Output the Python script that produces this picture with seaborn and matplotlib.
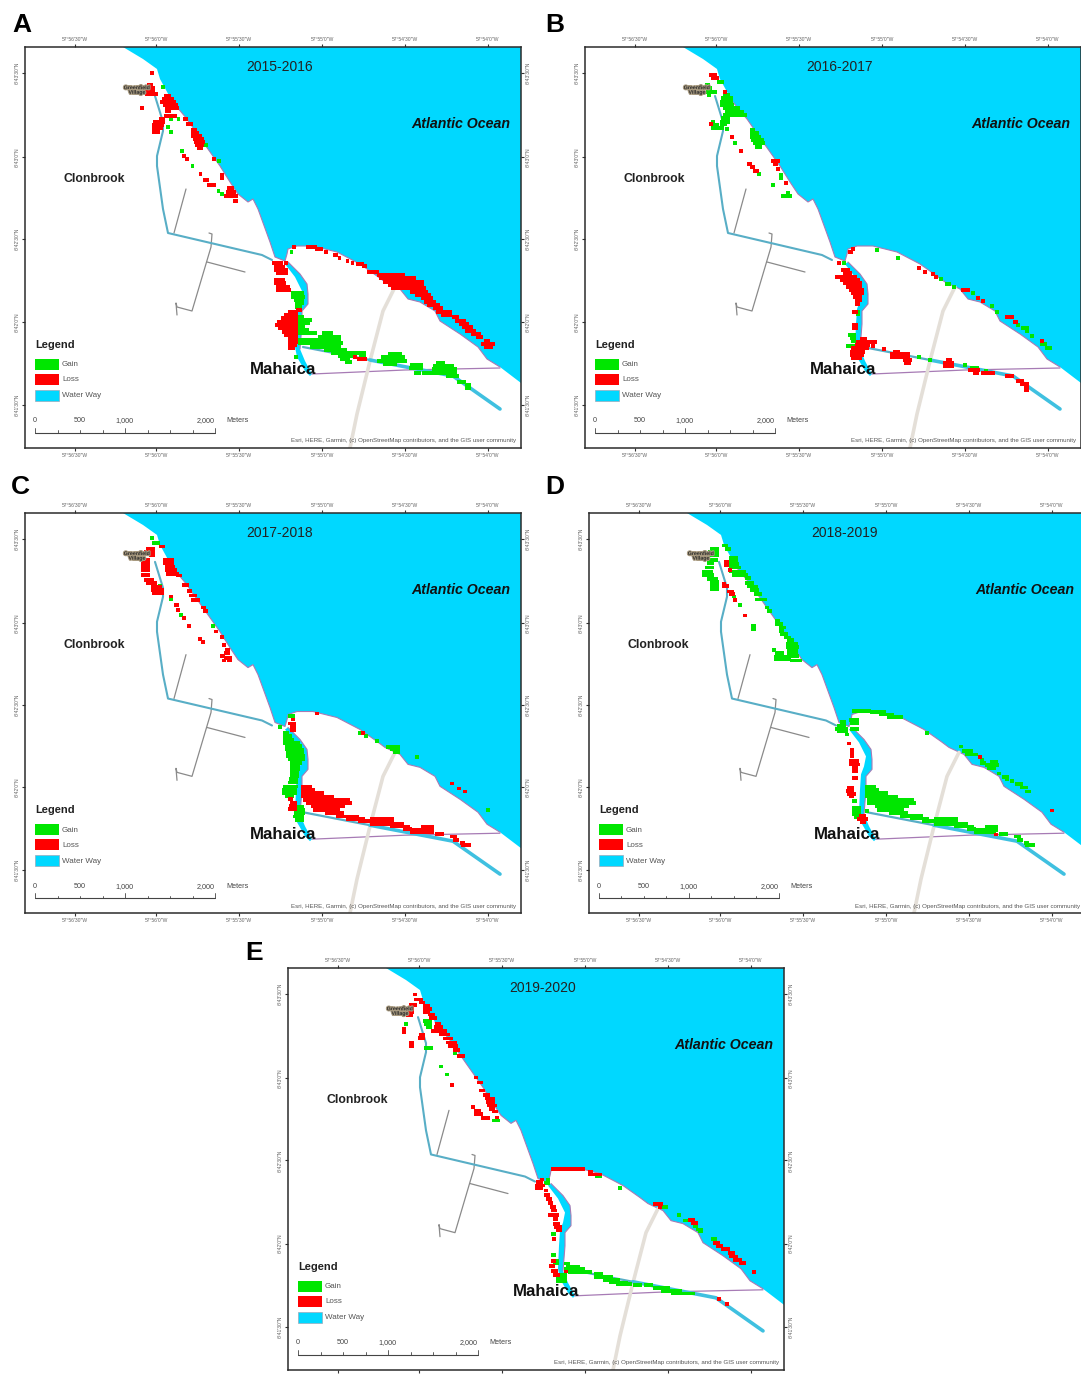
import numpy as np
import pandas as pd
import matplotlib
matplotlib.use("Agg")
import matplotlib.pyplot as plt
import matplotlib.patheffects as pe
from matplotlib.patches import Polygon, Rectangle
import seaborn as sns

sns.set_theme(style="white")
plt.rcParams['font.family'] = ['Liberation Sans', 'DejaVu Sans']

W, H = 1081, 1374
PANEL_LETTERS = ['A', 'B', 'C', 'D', 'E']
YEARS = ['2015-2016', '2016-2017', '2017-2018', '2018-2019', '2019-2020']
LON_LABELS = ['57°56\'30"W', '57°56\'0"W', '57°55\'30"W', '57°55\'0"W', '57°54\'30"W', '57°54\'0"W']
LAT_LABELS = ['6°43\'30"N', '6°43\'0"N', '6°42\'30"N', '6°42\'0"N', '6°41\'30"N']
LON_POS = [50, 131, 214, 297, 380, 463]
LAT_POS = [26, 110, 192, 275, 358]

# Base map, in map units (0-496 east, 0-401 south)
COAST = [(98, 0), (118, 12), (132, 22), (135, 32), (147, 54), (162, 72), (178, 95), (195, 119), (205, 135),
         (213, 147), (223, 155), (228, 152), (233, 162), (245, 195), (250, 210), (260, 214), (262, 207),
         (263, 202), (272, 199), (288, 199), (312, 205), (335, 217), (352, 229), (360, 235), (375, 242),
         (383, 252), (395, 255), (410, 264), (415, 274), (435, 287), (453, 300), (462, 312), (475, 320),
         (496, 336)]
OCEAN_CORNERS = [(496, 0)]
RIVER = [(260, 217), (270, 230), (277, 244), (275, 254), (272, 262), (271, 277), (270, 300), (272, 310),
         (280, 324), (285, 329), (287, 327), (280, 314), (275, 302), (277, 277), (277, 264), (283, 257),
         (283, 247), (282, 237), (275, 227), (263, 215)]
RIVER_BANK = [(263, 215), (275, 227), (282, 237), (283, 247), (283, 257), (277, 264), (277, 277), (275, 302)]
CANAL_EAST = [(278, 300), (345, 313), (428, 329), (475, 362)]
CANAL_NORTH = [(130, 49), (138, 75), (138, 84), (132, 109), (132, 119), (138, 162), (143, 186), (237, 208), (247, 213)]
PURPLE_ROAD = [(287, 327), (380, 323), (475, 321)]
PALE_ROAD = [(370, 240), (358, 264), (345, 314), (332, 367), (325, 401)]
GREY_ROADS = [[(161, 142), (149, 186)],
              [(184, 186), (187, 187), (186, 200), (167, 264), (152, 260), (151, 256), (152, 268)],
              [(182, 215), (220, 225)]]

# Change cells: rows of (first column, last column, row)
GAIN_A_UP = [(473,473,260),(495,495,357),(518,518,356),(488,488,380),(496,496,396),(597,597,436),(635,635,484),
             (527,527,452),(558,558,499),(634,634,572),(643,643,581)]
LOSS_A_UP = [(441,441,220),(432,438,255),(425,445,265),(425,445,275),(425,452,282),(480,490,288),(475,500,297),
             (470,505,306),(478,510,315),(485,515,324),(485,492,333),(480,508,347),(411,411,323),(465,472,358),
             (450,472,367),(445,470,376),(445,468,385),(445,460,396),(535,540,356),(545,555,371),(558,565,390),
             (558,572,399),(560,580,408),(565,585,417),(568,590,426),(572,585,435),(578,583,444),(620,620,476),
             (643,643,525),(643,643,535),(533,533,467),(542,542,476),(581,581,523),(595,600,541),(605,622,555),
             (665,672,565),(662,680,576),(655,685,588),(680,685,603)]
GAIN_A_LOW = [(845,845,67),(850,875,190),(850,880,200),(858,875,210),(862,875,220),(862,870,230),(865,875,260),
              (865,900,270),(862,895,280),(862,880,290),(862,890,300),(862,915,310),(940,960,310),(928,985,320),
              (865,920,330),(925,985,330),(870,990,340),(905,985,350),(945,1000,360),(965,1025,370),(1035,1055,368),
              (985,1020,378),(1045,1055,378),(990,1010,388),(1005,1015,397),(858,858,380),(1130,1160,372),
              (1110,1170,382),(1098,1175,392),(1115,1145,402),(1195,1220,405),(1190,1220,415),(1205,1215,428),
              (1230,1260,428),(1270,1285,398),(1260,1310,408),(1258,1320,418),(1265,1320,428),(1300,1325,438),
              (1330,1345,455),(1355,1360,465),(1355,1360,475)]
LOSS_A_LOW = [(853,853,50),(892,915,50),(920,932,58),(945,945,67),(970,975,75),(985,985,84),(1008,1008,93),
              (1022,1022,98),(1038,1050,102),(1055,1060,108),(1070,1095,125),(1100,1170,135),(1105,1200,145),
              (1115,1225,155),(1130,1225,165),(1140,1230,175),(1195,1235,185),(1210,1245,195),(1225,1250,205),
              (1235,1260,215),(1245,1270,225),(1260,1280,235),(1270,1305,245),(1285,1305,254),(1315,1325,262),
              (1325,1345,272),(1335,1355,282),(1345,1365,292),(1355,1375,302),(1370,1390,312),(1385,1395,322),
              (1410,1415,332),(1400,1430,342),(1410,1425,352),(830,830,100),(795,815,100),(800,820,110),(800,830,120),
              (805,830,130),(800,820,150),(800,825,160),(805,835,170),(805,840,180),(865,870,240),(840,858,245),
              (830,858,255),(820,858,265),(810,858,275),(803,858,285),(812,858,295),(822,858,305),(830,858,315),
              (840,858,325),(840,858,335),(840,855,345),(840,850,355),(1030,1030,380),(1040,1060,388)]

GAIN_B_UP = [(148,155,65),(110,115,75),(105,120,85),(115,135,95),(118,118,104),(165,175,105),(160,182,115),
             (155,182,125),(155,185,135),(165,205,145),(170,215,155),(165,225,165),(160,175,175),(155,175,185),
             (155,165,193),(130,130,185),(130,140,195),(130,155,205),(172,172,208),(195,195,248),(245,250,210),
             (245,262,220),(245,268,230),(250,275,240),(255,280,250),(262,270,260),(268,268,343),(332,332,345),
             (332,332,354),(308,308,376),(355,355,400),(338,360,408)]
LOSS_B_UP = [(122,135,46),(130,142,55),(165,165,96),(122,122,192),(187,187,232),(212,212,272),(236,240,312),
             (245,250,322),(255,260,332),(308,325,304),(315,318,312),(323,323,328),(348,348,368)]
GAIN_B_LOW = [(140,140,45),(205,205,68),(43,43,85),(333,333,133),(350,358,147),(372,372,157),(428,428,174),
              (485,485,213),(500,500,230),(565,565,270),(580,590,280),(590,590,288),(605,605,303),(637,645,328),
              (650,660,340),(85,85,230),(85,85,238),(60,72,300),(65,72,310),(68,72,318),(55,72,333),(268,268,367),
              (300,300,375),(405,405,390),(425,440,398),(468,468,407)]
LOSS_B_LOW = [(70,70,42),(60,62,52),(28,28,85),(40,55,105),(45,60,115),(20,75,125),(35,85,135),(45,90,145),
              (55,90,155),(62,95,165),(70,95,175),(75,90,185),(80,90,195),(82,85,208),(72,78,230),(72,78,270),
              (72,78,278),(95,105,312),(85,135,320),(80,115,330),(70,110,340),(65,100,350),(65,95,360),(70,90,368),
              (130,130,334),(163,163,342),(195,205,350),(185,235,358),(185,235,367),(225,240,375),(228,238,383),
              (355,360,375),(345,365,385),(345,365,392),(268,268,100),(285,285,110),(310,310,117),(318,318,125),
              (400,415,166),(445,445,190),(460,460,197),(530,545,245),(555,557,262),(637,637,317),(420,445,405),
              (435,440,415),(458,490,413),(530,545,422),(563,575,438),(575,590,447),(588,590,456),(588,590,464)]

GAIN_C_UP = [(125,125,40),(133,145,55),(150,150,183),(182,182,224),(214,214,271),(310,310,304)]
LOSS_C_UP = [(115,128,72),(108,130,82),(122,130,92),(105,115,105),(100,115,115),(100,115,125),(100,115,135),
             (100,115,150),(108,125,165),(115,135,175),(130,150,185),(130,155,195),(132,155,205),(152,160,65),
             (165,185,105),(165,185,115),(170,190,125),(172,195,135),(175,200,148),(205,210,152),(222,232,180),
             (238,240,198),(243,255,212),(250,265,225),(278,282,248),(285,288,258),(182,182,215),(197,200,240),
             (205,205,255),(222,222,280),(238,238,304),(318,318,320),(335,335,336),(342,342,360),(270,270,342),
             (278,278,352),(350,355,375),(348,355,385),(335,340,395),(348,360,400),(342,342,408),(358,360,408)]
GAIN_C_LOW = [(60,70,50),(30,30,83),(45,50,100),(45,60,110),(45,65,120),(45,85,130),(50,90,140),(50,95,150),
              (55,95,160),(55,100,170),(60,100,180),(65,90,190),(65,85,200),(65,85,210),(65,82,220),(65,80,230),
              (62,78,240),(60,78,250),(45,78,262),(42,75,272),(42,75,282),(50,65,292),(85,95,322),(80,100,332),
              (78,100,342),(75,95,352),(80,95,362),(270,270,100),(287,287,110),(320,320,124),(355,385,142),
              (365,385,150),(375,385,158),(440,440,173),(655,655,333)]
LOSS_C_LOW = [(142,142,42),(68,70,60),(60,72,72),(65,72,82),(65,72,92),(278,278,100),(60,62,300),(65,75,310),
              (62,75,320),(60,75,330),(100,120,262),(100,130,272),(100,155,282),(100,185,292),(105,235,302),
              (115,240,312),(130,220,322),(135,205,332),(170,215,342),(205,260,352),(305,335,358),(340,365,358),
              (235,280,360),(270,365,366),(305,395,374),(365,415,382),(405,420,390),(460,485,382),(430,485,392),
              (425,485,400),(500,515,405),(545,555,412),(555,560,422),(575,578,432),(580,597,438),(545,545,253),
              (568,568,268),(585,585,277)]

GAIN_D_UP = [(150,155,62),(160,165,72),(115,130,72),(108,130,82),(108,130,92),(170,185,98),(105,125,105),
             (170,185,108),(105,115,115),(170,190,118),(100,115,128),(170,195,128),(90,110,140),(172,210,140),
             (90,115,150),(180,215,150),(105,125,162),(218,225,160),(115,130,172),(220,235,175),(115,130,182),
             (225,245,185),(115,130,192),(235,250,195),(245,258,208),(250,272,224),(180,180,215),(197,197,240),
             (278,280,248),(285,288,258),(238,240,304),(238,240,314),(308,312,288),(310,320,298),(320,330,308),
             (322,325,318),(325,335,328),(335,345,338),(345,355,346),(342,365,356),(342,370,366),(345,365,376),
             (345,365,386),(345,370,395),(355,378,408),(300,300,376),(310,325,386),(305,335,396),(305,345,405)]
LOSS_D_UP = [(155,160,110),(155,160,120),(167,167,135),(150,150,178),(150,160,184),(165,175,200),(172,178,208),
             (182,182,225),(214,214,272)]
GAIN_D_LOW = [(60,105,35),(115,150,38),(140,155,45),(165,175,45),(165,200,53),(50,70,62),(25,30,68),(55,70,72),
              (15,30,78),(10,35,88),(55,70,88),(15,35,95),(38,38,105),(278,278,100),(380,380,141),(390,410,155),
              (400,425,165),(445,445,180),(445,450,190),(475,485,188),(460,490,197),(465,480,205),(495,495,222),
              (510,520,232),(520,520,238),(535,535,245),(550,560,255),(565,575,265),(580,585,277),(100,120,262),
              (100,130,272),(100,155,282),(100,185,292),(105,235,302),(105,240,312),(130,220,322),(135,205,332),
              (170,215,342),(205,260,350),(235,280,358),(305,335,358),(340,365,358),(270,365,366),(305,395,374),
              (365,415,382),(405,420,390),(460,485,382),(430,485,392),(425,480,400),(500,515,405),(545,555,412),
              (555,560,422),(575,578,432),(580,597,438),(60,62,305),(60,75,325),(60,75,335),(60,75,345),(65,75,355),
              (100,100,335)]
LOSS_D_LOW = [(45,45,132),(55,55,150),(55,55,160),(55,55,170),(50,70,185),(50,72,195),(60,65,205),(60,65,215),
              (60,65,235),(45,55,265),(42,55,275),(45,60,285),(50,55,292),(80,90,350),(75,95,360),(85,90,368),
              (438,438,173),(487,487,406),(655,655,334)]

GAIN_E_UP = [(100,100,116),(155,170,107),(160,170,117),(165,170,127),(160,175,188),(245,245,204),(205,205,244),
             (221,221,268),(362,375,405)]
LOSS_E_UP = [(125,125,28),(130,145,43),(145,150,52),(115,125,60),(155,165,62),(155,170,72),(105,118,72),(155,165,82),
             (105,118,82),(105,115,90),(170,180,88),(175,185,98),(192,198,115),(188,205,125),(180,215,137),
             (205,225,148),(215,235,160),(225,245,172),(230,248,182),(245,255,195),(258,270,212),(92,92,130),
             (92,92,140),(145,150,148),(140,150,158),(115,118,172),(115,118,182),(237,237,300),(310,310,277),
             (318,325,292),(325,330,316),(335,345,330),(342,360,340),(345,360,350),(348,365,360),(355,360,370),
             (362,370,378),(300,300,364),(310,318,375),(310,325,385),(330,345,397),(372,372,396)]
GAIN_E_LOW = [(192,200,63),(262,262,97),(45,45,72),(40,45,82),(60,62,235),(60,62,298),(65,72,315),(65,72,322),
              (390,400,154),(438,438,179),(455,465,195),(485,490,212),(495,505,222),(500,505,228),(540,545,250),
              (545,548,260),(100,105,323),(105,135,332),(100,150,340),(110,170,348),(80,95,358),(75,95,368),
              (75,95,376),(190,205,355),(190,235,364),(215,255,372),(235,280,380),(255,290,385),(305,320,388),
              (340,355,388),(365,380,397),(385,405,397),(390,440,405),(420,465,413),(475,480,413)]
LOSS_E_LOW = [(60,72,40),(85,105,40),(115,150,40),(170,175,48),(170,200,57),(28,28,72),(15,25,80),(12,30,90),
              (12,25,98),(38,40,105),(40,45,118),(45,50,130),(52,55,142),(58,62,155),(60,65,165),(50,72,178),
              (65,70,190),(65,75,205),(70,80,215),(75,80,225),(62,62,250),(60,62,315),(55,60,330),(60,70,345),
              (65,75,358),(100,100,347),(365,385,145),(380,382,155),(470,480,193),(480,490,203),(545,555,262),
              (555,565,270),(570,585,280),(590,600,292),(595,610,302),(605,620,312),(625,632,322),(663,663,348),
              (558,558,429),(582,582,445)]

# Readings are in survey units; (x origin, y origin, x scale) of each sheet: north part, south part
SHEETS = {
    'A': ((-25, -47, 2.9), (-25, 183, 2.9)),
    'B': ((85, 13, 3.0), (245, 188, 3.0)),
    'C': ((85, 12, 3.0), (245, 187, 3.0)),
    'D': ((85, 12, 3.0), (245, 187, 3.0)),
    'E': ((85, 17, 3.0), (245, 187, 3.0)),
}
CELLS = {
    'A': (GAIN_A_UP, LOSS_A_UP, GAIN_A_LOW, LOSS_A_LOW),
    'B': (GAIN_B_UP, LOSS_B_UP, GAIN_B_LOW, LOSS_B_LOW),
    'C': (GAIN_C_UP, LOSS_C_UP, GAIN_C_LOW, LOSS_C_LOW),
    'D': (GAIN_D_UP, LOSS_D_UP, GAIN_D_LOW, LOSS_D_LOW),
    'E': (GAIN_E_UP, LOSS_E_UP, GAIN_E_LOW, LOSS_E_LOW),
}
# Panel frames in pixels: left, top, right, bottom
FRAMES = {'A': (25, 47, 521, 448), 'B': (585, 47, 1081, 448), 'C': (25, 513, 521, 913),
          'D': (589, 513, 1085, 913), 'E': (288, 968, 784, 1370)}
LETTER_POS = {'A': (12, 25), 'B': (545, 25), 'C': (11, 487), 'D': (545, 487), 'E': (245, 953)}
NO_RIGHT_LABELS = ['B', 'D']

OCEAN = '#00d8ff'
GAIN = '#00e600'
LOSS = '#ff0000'
PURPLE = '#a77bb5'
CANAL = '#58aec6'


def expand(rows, sheet, change):
    ox, oy, sx = sheet
    out = []
    for x0, x1, y in rows:
        xs = list(np.arange(x0, x1, 9.0)) + [x1]
        for x in xs:
            out.append((ox + x / sx, oy + y / 3.0, change))
    return out


def draw_panel(fig, key, year):
    l, t, r, b = FRAMES[key]
    ax = fig.add_axes([l / W, 1 - b / H, (r - l) / W, (b - t) / H])
    ax.set_xlim(0, 496)
    ax.set_ylim(401, 0)
    ax.set_facecolor('white')

    ax.add_patch(Polygon(COAST + OCEAN_CORNERS, closed=True, fc=OCEAN, ec='none', zorder=1))
    ax.plot(*zip(*COAST[4:-1]), color=PURPLE, lw=0.8, zorder=2)
    ax.add_patch(Polygon(RIVER, closed=True, fc=OCEAN, ec='none', zorder=2))
    ax.plot(*zip(*RIVER_BANK), color=PURPLE, lw=0.8, zorder=2)
    ax.plot(*zip(*PURPLE_ROAD), color=PURPLE, lw=0.9, zorder=2)
    ax.plot(*zip(*PALE_ROAD), color='#e4dfd8', lw=2.6, zorder=2)
    for road in GREY_ROADS:
        ax.plot(*zip(*road), color='#8a8a8a', lw=0.9, zorder=2)
    ax.plot(*zip(*CANAL_NORTH), color=CANAL, lw=1.5, zorder=3)
    ax.plot(*zip(*CANAL_EAST[:2]), color=CANAL, lw=1.6, zorder=3)
    ax.plot(*zip(*CANAL_EAST[1:]), color='#3fc0e0', lw=2.6, zorder=3)

    gain_up, loss_up, gain_low, loss_low = CELLS[key]
    up, low = SHEETS[key]
    rows = (expand(gain_up, up, 'Gain') + expand(gain_low, low, 'Gain')
            + expand(loss_up, up, 'Loss') + expand(loss_low, low, 'Loss'))
    df = pd.DataFrame(rows, columns=['x', 'y', 'change'])
    sns.scatterplot(data=df, x='x', y='y', hue='change', palette={'Gain': GAIN, 'Loss': LOSS},
                    marker='s', s=7, linewidth=0, legend=False, ax=ax, zorder=4)
    ax.set_xlabel('')
    ax.set_ylabel('')

    ax.set_xticks(LON_POS, LON_LABELS)
    ax.set_yticks(LAT_POS, LAT_LABELS)
    ax.tick_params(axis='both', which='major', direction='out', length=2.2, width=0.8, color='#333333',
                   labelsize=3.6, labelcolor='#666666', pad=1.5, top=True, right=True, bottom=True, left=True,
                   labeltop=True, labelright=key not in NO_RIGHT_LABELS, labelbottom=key != 'E', labelleft=True)
    for lab in ax.get_yticklabels():
        lab.set_rotation(90)
        lab.set_va('center')
    for tick in ax.yaxis.get_major_ticks():
        tick.label2.set_rotation(90)
        tick.label2.set_va('center')
    for s in ax.spines.values():
        s.set_visible(True)
        s.set_color('#2b2b2b')
        s.set_linewidth(1.1)

    ax.text(255, 20, year, ha='center', va='center', fontsize=10, color='#222222', zorder=6)
    ax.text(436, 77, 'Atlantic Ocean', ha='center', va='center', fontsize=10.2, fontweight='bold',
            fontstyle='italic', color='#111111', zorder=6)
    ax.text(69, 132, 'Clonbrook', ha='center', va='center', fontsize=8.8, fontweight='bold',
            color='#222222', zorder=6)
    ax.text(258, 322.5, 'Mahaica', ha='center', va='center', fontsize=12.2, fontweight='bold', color='#111111', zorder=6)
    ax.text(112, 43, 'Greenfield\nVillage', ha='center', va='center', fontsize=3.8, fontweight='bold',
            color='#2a2a2a', linespacing=0.9, zorder=6,
            path_effects=[pe.withStroke(linewidth=1.6, foreground='#a89a80')])

    # Legend block
    ax.text(10, 298, 'Legend', ha='left', va='center', fontsize=8, fontweight='bold', color='#222222', zorder=6)
    for y, c, name in [(312, GAIN, 'Gain'), (327, LOSS, 'Loss'), (343, OCEAN, 'Water Way')]:
        ax.add_patch(Rectangle((10, y), 24, 11, fc=c, ec='#9ab' if name == 'Water Way' else 'none', lw=0.5, zorder=6))
        ax.text(37, y + 6, name, ha='left', va='center', fontsize=5.8, color='#555555', zorder=6)

    # Scale bar
    ax.plot([10, 190], [386, 386], color='#444444', lw=0.8, zorder=6)
    for i in range(9):
        x = 10 + 22.5 * i
        top = 381 if i % 4 == 0 else 383.5
        ax.plot([x, x], [top, 386], color='#444444', lw=0.6, zorder=6)
    for x, s in [(10, '0'), (55, '500'), (99, '1,000'), (181, '2,000')]:
        ax.text(x, 374, s, ha='center', va='center', fontsize=5.2, color='#444444', zorder=6)
    ax.text(201, 374, 'Meters', ha='left', va='center', fontsize=5.2, color='#444444', zorder=6)
    ax.text(491, 394, 'Esri, HERE, Garmin, (c) OpenStreetMap contributors, and the GIS user community',
            ha='right', va='center', fontsize=4.45, color='#555555', zorder=6)
    lx, ly = LETTER_POS[key]
    fig.text(lx / W, 1 - ly / H, key, ha='left', va='center', fontsize=19, fontweight='bold', color='black')


fig = plt.figure(figsize=(W / 100, H / 100), dpi=100, facecolor='white')
for key, year in zip(PANEL_LETTERS, YEARS):
    draw_panel(fig, key, year)
fig.savefig('out.png', dpi=100)
